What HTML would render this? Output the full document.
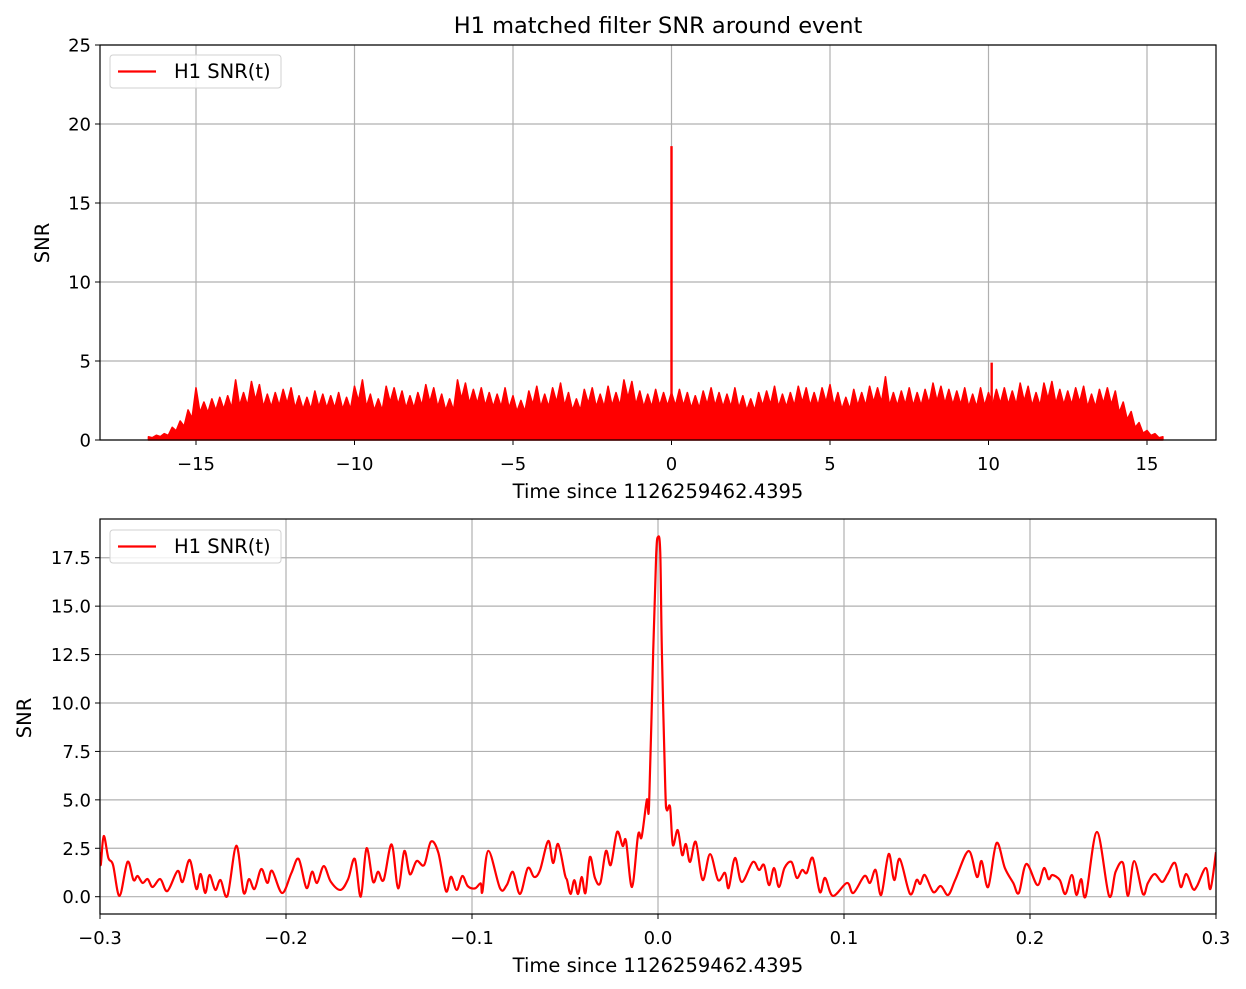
<!DOCTYPE html>
<html><head><meta charset="utf-8">
<style>
body{margin:0;background:#fff;}
svg{display:block;font-family:"DejaVu Sans","Liberation Sans",sans-serif;}
</style></head>
<body>
<svg id="fig" width="1246" height="989" viewBox="0 0 1246 989">
<text x="658" y="33" text-anchor="middle" font-size="22.5" fill="#000">H1 matched filter SNR around event</text>
</svg>
<script>
// ---------- data: top panel (full span) ----------
const topStart = -16.5;
const topStep = 0.25;
const topPeaks = [0.2,0.3,0.4,0.8,1.2,1.9,3.3,2.4,2.6,2.7,2.8,3.8,3.0,3.7,3.5,2.9,3.0,3.2,3.3,2.8,2.7,3.1,2.9,2.8,3.0,2.7,3.4,3.8,2.9,2.6,3.4,3.3,3.1,2.8,3.0,3.5,3.3,2.9,2.6,3.8,3.6,3.2,3.3,3.0,2.9,3.3,2.8,2.5,3.1,3.4,2.9,3.3,3.6,3.0,2.6,3.2,3.3,2.9,3.4,3.0,3.8,3.7,3.1,2.9,3.2,3.0,3.0,3.2,3.0,2.8,3.1,3.3,3.0,2.9,3.3,2.8,2.6,3.0,3.1,3.4,2.9,3.0,3.4,3.3,3.0,3.3,3.5,3.0,2.7,3.2,3.0,3.4,3.3,4.0,3.0,3.1,3.3,3.0,3.2,3.6,3.4,3.2,3.1,3.3,2.9,3.3,3.0,3.2,3.3,3.1,3.6,3.4,3.0,3.6,3.7,3.2,3.1,3.3,3.4,2.9,3.2,3.3,3.1,2.4,1.8,1.1,0.6,0.4,0.2];
const spikeTimes = [0.0, 10.1];
const spikeValues = [18.6, 4.9];
const topXTicks = [-15,-10,-5,0,5,10,15];
const topYTicks = [0,5,10,15,20,25];

// ---------- data: bottom panel (zoom) ----------
const zoomTimes = [-0.3,-0.2996,-0.298,-0.2955,-0.293,-0.2895,-0.2852,-0.282,-0.2798,-0.2771,-0.2744,-0.2717,-0.2676,-0.2638,-0.2583,-0.2556,-0.2518,-0.2482,-0.2459,-0.2434,-0.2411,-0.238,-0.2352,-0.2315,-0.2267,-0.2228,-0.2199,-0.2169,-0.2133,-0.21,-0.2075,-0.2021,-0.1971,-0.1932,-0.189,-0.186,-0.1833,-0.1797,-0.1759,-0.1707,-0.1666,-0.163,-0.1598,-0.1567,-0.1532,-0.1505,-0.1475,-0.1432,-0.1397,-0.1364,-0.1334,-0.1298,-0.1257,-0.1221,-0.1181,-0.114,-0.1113,-0.1082,-0.1052,-0.1023,-0.0984,-0.0953,-0.0944,-0.0912,-0.0849,-0.0813,-0.078,-0.0742,-0.070,-0.0666,-0.0634,-0.059,-0.0564,-0.0537,-0.050,-0.0489,-0.047,-0.045,-0.043,-0.041,-0.039,-0.0366,-0.0339,-0.031,-0.028,-0.0254,-0.022,-0.019,-0.0172,-0.014,-0.0107,-0.0088,-0.006,-0.0048,-0.0026,-0.001,0.0,0.0012,0.0021,0.0039,0.0047,0.0065,0.008,0.0106,0.013,0.015,0.0172,0.0203,0.024,0.028,0.0323,0.036,0.038,0.0414,0.045,0.051,0.0543,0.057,0.0597,0.0624,0.065,0.068,0.0718,0.0746,0.0775,0.08,0.0832,0.087,0.0898,0.094,0.1016,0.105,0.111,0.114,0.117,0.120,0.124,0.127,0.130,0.1355,0.139,0.141,0.1435,0.148,0.152,0.156,0.160,0.167,0.1715,0.174,0.1775,0.182,0.1865,0.191,0.194,0.198,0.204,0.2075,0.210,0.212,0.216,0.219,0.2225,0.225,0.2275,0.230,0.236,0.2425,0.246,0.250,0.2527,0.256,0.2607,0.2634,0.267,0.271,0.274,0.278,0.281,0.284,0.2876,0.2898,0.2946,0.297,0.3];
const zoomValues = [2.3,1.64,3.13,2.0,1.64,0.04,1.8,0.86,1.07,0.71,0.91,0.5,0.91,0.29,1.33,0.76,1.9,0.4,1.17,0.19,1.12,0.35,0.86,0.04,2.63,0.21,0.91,0.4,1.43,0.71,1.34,0.19,1.22,1.95,0.45,1.29,0.71,1.58,0.77,0.35,0.91,1.95,0.0,2.5,0.77,1.29,0.86,2.7,0.43,2.36,1.16,1.84,1.64,2.84,2.27,0.29,1.03,0.35,1.07,0.55,0.43,0.69,0.26,2.37,0.43,0.6,1.28,0.14,1.48,1.02,1.38,2.88,1.74,2.72,1.12,0.86,0.14,0.86,0.14,1.02,0.19,2.05,0.97,0.71,2.36,1.64,3.34,2.62,2.88,0.5,3.19,3.08,5.0,4.73,12.6,17.6,18.57,17.8,12.6,5.66,4.48,4.63,2.67,3.44,2.15,2.72,1.79,2.83,0.86,2.2,0.86,1.23,0.45,2.0,0.76,1.79,1.38,1.64,0.6,1.48,0.5,1.48,1.79,0.97,1.38,1.23,2.0,0.24,0.97,0.04,0.71,0.19,1.07,0.71,1.38,0.09,2.2,0.86,1.95,0.14,0.86,0.66,1.12,0.24,0.55,0.09,0.91,2.36,1.02,1.84,0.5,2.77,1.48,0.71,0.19,1.69,0.6,1.48,0.91,1.12,0.86,0.14,1.12,0.09,0.91,0.04,3.34,0.04,1.28,1.74,0.04,1.84,0.14,0.71,1.17,0.76,1.17,1.74,0.5,1.17,0.4,0.55,1.48,0.4,2.3];
const zoomXTicks = [-0.3,-0.2,-0.1,0.0,0.1,0.2,0.3];
const zoomXLabels = ["\u22120.3","\u22120.2","\u22120.1","0.0","0.1","0.2","0.3"];
const zoomYTicks = [0,2.5,5,7.5,10,12.5,15,17.5];
const zoomYLabels = ["0.0","2.5","5.0","7.5","10.0","12.5","15.0","17.5"];

const NS = "http://www.w3.org/2000/svg";
const svg = document.getElementById('fig');
function mk(tag, attrs, parent){
  const e = document.createElementNS(NS, tag);
  for (const k in attrs) e.setAttribute(k, attrs[k]);
  (parent||svg).appendChild(e);
  return e;
}
const TICK_FS = '18';
const LABEL_FS = '19.5';

// ---------- top panel ----------
const T = {l:100, r:1216, t:45, b:440};
const tx = t => 671.5 + 31.7 * t;
const ty = v => 440 - v * 15.8;
const gTop = mk('g', {});


topXTicks.forEach(t => {
  const l = mk('line', {x1:tx(t), x2:tx(t), y1:T.t, y2:T.b, stroke:'#b0b0b0', 'stroke-width':1.2}, gTop);
  
  
  mk('line', {x1:tx(t), x2:tx(t), y1:T.b, y2:T.b+5, stroke:'#000', 'stroke-width':1}, gTop);
  const s = mk('text', {x:tx(t), y:T.b+30, 'text-anchor':'middle', 'font-size':TICK_FS}, gTop);
  s.textContent = t < 0 ? '\u2212' + Math.abs(t) : String(t);
  
  
});
topYTicks.forEach(v => {
  const l = mk('line', {x1:T.l, x2:T.r, y1:ty(v), y2:ty(v), stroke:'#b0b0b0', 'stroke-width':1.2}, gTop);
  
  
  mk('line', {x1:T.l-5, x2:T.l, y1:ty(v), y2:ty(v), stroke:'#000', 'stroke-width':1}, gTop);
  const s = mk('text', {x:T.l-9, y:ty(v)+6.5, 'text-anchor':'end', 'font-size':TICK_FS}, gTop);
  s.textContent = String(v);
  
  
});
let zig = [];
topPeaks.forEach((v,i) => {
  const t = topStart + i*topStep;
  zig.push(tx(t) + ',' + ty(v));
  if (i < topPeaks.length-1) {
    const nv = topPeaks[i+1];
    zig.push(tx(t + topStep/2) + ',' + ty(Math.min(v, nv)*0.72));
  }
});
const poly = [tx(topStart) + ',' + ty(0)].concat(zig, [tx(topStart + (topPeaks.length-1)*topStep) + ',' + ty(0)]);
const area = mk('polygon', {points:poly.join(' '), fill:'#ff0000', stroke:'#ff0000', 'stroke-width':1.6, 'stroke-linejoin':'round'}, gTop);


spikeTimes.forEach((t,i) => {
  const b = mk('line', {x1:tx(t), x2:tx(t), y1:ty(0), y2:ty(spikeValues[i]), stroke:'#ff0000', 'stroke-width':2.4}, gTop);
  
  
});
const f1 = mk('rect', {x:T.l, y:T.t, width:T.r-T.l, height:T.b-T.t, fill:'none', stroke:'#000', 'stroke-width':1.2}, gTop);


const xl1 = mk('text', {x:658, y:498, 'text-anchor':'middle', 'font-size':LABEL_FS}, gTop);
xl1.textContent = 'Time since 1126259462.4395';


const yl1 = mk('text', {x:49, y:243, 'text-anchor':'middle', 'font-size':LABEL_FS, transform:'rotate(-90 49 243)'}, gTop);
yl1.textContent = 'SNR';



// ---------- bottom panel ----------
const B = {l:100, r:1216, t:519, b:914};
const bx = t => 658 + 1860 * t;
const by = v => 896.7 - v * 19.37;
const gBot = mk('g', {});


zoomXTicks.forEach((t,i) => {
  const l = mk('line', {x1:bx(t), x2:bx(t), y1:B.t, y2:B.b, stroke:'#b0b0b0', 'stroke-width':1.2}, gBot);
  
  
  mk('line', {x1:bx(t), x2:bx(t), y1:B.b, y2:B.b+5, stroke:'#000', 'stroke-width':1}, gBot);
  const s = mk('text', {x:bx(t), y:B.b+30, 'text-anchor':'middle', 'font-size':TICK_FS}, gBot);
  s.textContent = zoomXLabels[i];
  
  
});
zoomYTicks.forEach((v,i) => {
  const l = mk('line', {x1:B.l, x2:B.r, y1:by(v), y2:by(v), stroke:'#b0b0b0', 'stroke-width':1.2}, gBot);
  
  
  mk('line', {x1:B.l-5, x2:B.l, y1:by(v), y2:by(v), stroke:'#000', 'stroke-width':1}, gBot);
  const s = mk('text', {x:B.l-9, y:by(v)+6.5, 'text-anchor':'end', 'font-size':TICK_FS}, gBot);
  s.textContent = zoomYLabels[i];
  
  
});
const P = zoomTimes.map((t,i) => [bx(t), by(zoomValues[i])]);
let d = 'M' + P[0][0] + ',' + P[0][1];
for (let i=0;i<P.length-1;i++){
  const p0 = P[Math.max(0,i-1)], p1 = P[i], p2 = P[i+1], p3 = P[Math.min(P.length-1,i+2)];
  const c1 = [p1[0]+(p2[0]-p0[0])/6, p1[1]+(p2[1]-p0[1])/6];
  const c2 = [p2[0]-(p3[0]-p1[0])/6, p2[1]-(p3[1]-p1[1])/6];
  d += ' C' + c1[0] + ',' + c1[1] + ' ' + c2[0] + ',' + c2[1] + ' ' + p2[0] + ',' + p2[1];
}
const clip = mk('clipPath', {id:'bclip'}, svg);
mk('rect', {x:B.l, y:B.t, width:B.r-B.l, height:B.b-B.t}, clip);
const curve = mk('path', {d:d, fill:'none', stroke:'#ff0000', 'stroke-width':2.2, 'stroke-linejoin':'round', 'clip-path':'url(#bclip)'}, gBot);


const f2 = mk('rect', {x:B.l, y:B.t, width:B.r-B.l, height:B.b-B.t, fill:'none', stroke:'#000', 'stroke-width':1.2}, gBot);


const xl2 = mk('text', {x:658, y:972, 'text-anchor':'middle', 'font-size':LABEL_FS}, gBot);
xl2.textContent = 'Time since 1126259462.4395';


const yl2 = mk('text', {x:31, y:718, 'text-anchor':'middle', 'font-size':LABEL_FS, transform:'rotate(-90 31 718)'}, gBot);
yl2.textContent = 'SNR';



// ---------- legends ----------
[[55,'top-legend'],[530,'bottom-legend']].forEach(([y0,name]) => {
  const g = mk('g', {});
  
  
  mk('rect', {x:110, y:y0, width:171, height:33, rx:3, fill:'#fff', 'fill-opacity':0.85, stroke:'#d0d0d0', 'stroke-width':1}, g);
  const ln = mk('line', {x1:118, x2:156, y1:y0+16.5, y2:y0+16.5, stroke:'#ff0000', 'stroke-width':2.2}, g);
  
  
  const tt = mk('text', {x:174, y:y0+23, 'font-size':LABEL_FS}, g);
  tt.textContent = 'H1 SNR(t)';
  
  
});
</script>
</body></html>
